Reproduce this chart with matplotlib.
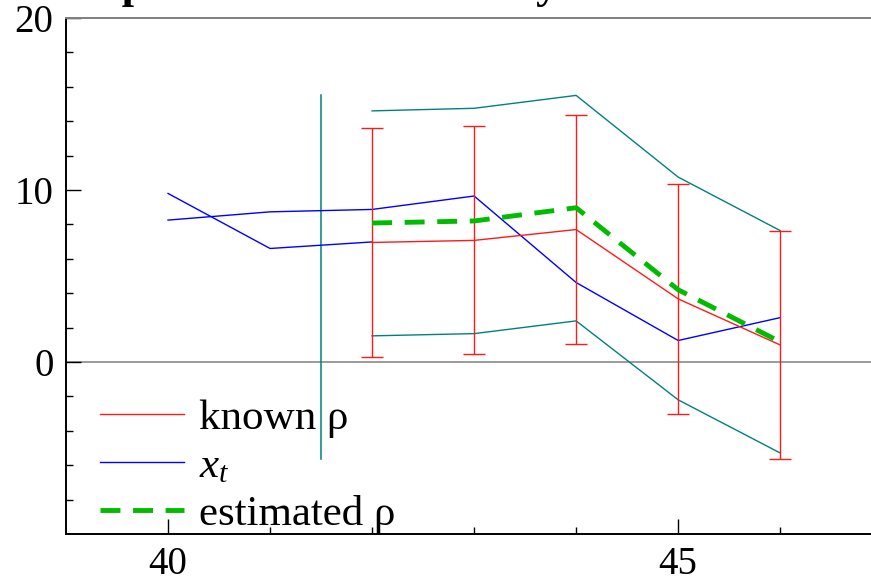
import matplotlib
matplotlib.use("Agg")
from matplotlib import pyplot as plt
from matplotlib.lines import Line2D

plt.rcParams['font.family'] = ['Liberation Serif', 'DejaVu Serif']
plt.rcParams['mathtext.fontset'] = 'custom'
plt.rcParams['mathtext.rm'] = 'Liberation Serif'
plt.rcParams['mathtext.it'] = 'Liberation Serif:italic'

# data
t_all = [40, 41, 42, 43, 44, 45, 46]
x_a = [8.25, 8.73, 8.87, 9.65, 4.62, 1.25, 2.58]
t_b = [40, 41, 42]
x_b = [9.8, 6.6, 6.98]

t_rho = [42, 43, 44, 45, 46]
known_rho = [6.95, 7.07, 7.7, 3.67, 0.99]
known_err = [6.65, 6.63, 6.68, 6.67, 6.65]
est_rho = [8.08, 8.2, 8.97, 4.2, 1.17]
band_hi = [14.6, 14.75, 15.5, 10.75, 7.64]
band_lo = [1.52, 1.65, 2.39, -2.2, -5.29]

vline_t = 41.5
vline_lo = -5.66
vline_hi = 15.55

W, H = 871, 582
fig = plt.figure(figsize=(W / 100, H / 100), dpi=100)
ax = fig.add_axes([66 / W, 48 / H, (W - 66) / W, (534 - 18) / H])

teal = '#008080'
ax.axhline(0, color='#808080', lw=1.1, zorder=1)
ax.plot([vline_t, vline_t], [vline_lo, vline_hi], color=teal, lw=1.1, zorder=2)
ax.plot(t_rho, band_hi, color=teal, lw=1.0, zorder=2)
ax.plot(t_rho, band_lo, color=teal, lw=1.0, zorder=2)
ax.plot(t_all, x_a, color='#0000ff', lw=1.0, zorder=3)
ax.plot(t_b, x_b, color='#0000ff', lw=1.0, zorder=3)
ax.errorbar(t_rho, known_rho, yerr=known_err, color='#ff1a1a', lw=1.0,
            elinewidth=1.0, capsize=8, capthick=1.0, zorder=4)
ax.plot(t_rho, est_rho, color='#00bb00', lw=3.5, dashes=(4.1, 2.6), zorder=5)

ax.set_xlim(39, 46.89)
ax.set_ylim(-10, 20)
ax.set_xticks([40, 45])
ax.set_xticks([41, 42, 43, 44, 46], minor=True)
ax.set_yticks([0, 10, 20])
ax.set_yticks([-8, -6, -4, -2, 2, 4, 6, 8, 12, 14, 16, 18], minor=True)
ax.tick_params(which='both', direction='in', labelsize=28, colors='black')
ax.tick_params(which='major', length=11, width=1.0)
ax.tick_params(which='minor', length=5, width=1.0)
ax.tick_params(axis='x', pad=9)
ax.tick_params(axis='y', pad=9)
ax.spines['right'].set_visible(False)
ax.spines['top'].set_color('#808080')
ax.spines['top'].set_linewidth(1.4)
ax.spines['left'].set_linewidth(1.4)
ax.spines['bottom'].set_linewidth(1.4)

handles = [
    Line2D([], [], color='#ff1a1a', lw=1.0),
    Line2D([], [], color='#0000ff', lw=1.0),
    Line2D([], [], color='#00bb00', lw=3.5, dashes=(4.1, 2.6)),
]
labels = ['known ρ', '$x_t$', 'estimated ρ']
ax.legend(handles, labels, loc='lower left', frameon=False, fontsize=31,
          handlelength=1.95, handletextpad=0.35, labelspacing=0.2,
          borderpad=0, borderaxespad=0, bbox_to_anchor=(100 / W, 48 / H),
          bbox_transform=fig.transFigure)

fig.text(30 / W, 1 + 2 / H, 'Comparison of estimates by time',
         fontsize=32, fontweight='bold', va='baseline', ha='left')

fig.savefig('out.png', dpi=100)
